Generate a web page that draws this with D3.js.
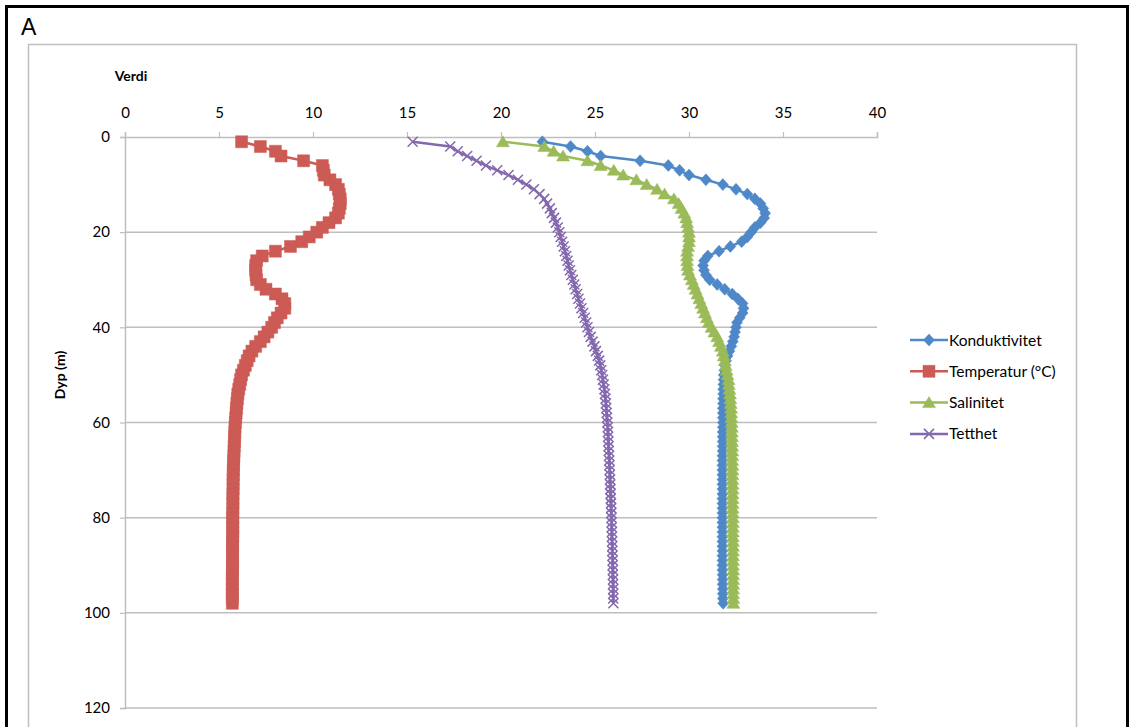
<!DOCTYPE html>
<html>
<head>
<meta charset="utf-8">
<script src="https://cdn.jsdelivr.net/npm/d3@7"></script>
<style>
  html, body { margin: 0; padding: 0; background: #fff; }
  svg { display: block; }
  text { font-family: Lato, "Open Sans", "Liberation Sans", sans-serif; fill: #000; }
</style>
</head>
<body>
<svg id="chart" width="1134" height="727"></svg>
<script>
// ---------- DATA ----------
const depths = [1,2,3,4,5,6,7,8,9,10,11,12,13,14,15,16,17,18,19,20,
  21,22,23,24,25,26,27,28,29,30,31,32,33,34,35,36,37,38,39,40,
  41,42,43,44,45,46,47,48,49,50,51,52,53,54,55,56,57,58,59,60,
  61,62,63,64,65,66,67,68,69,70,71,72,73,74,75,76,77,78,79,80,
  81,82,83,84,85,86,87,88,89,90,91,92,93,94,95,96,97,98];

const konduktivitet = [22.2,23.7,24.6,25.3,27.4,28.9,29.5,30.0,30.9,31.8,
  32.5,33.1,33.5,33.8,33.95,34.05,34.0,33.8,33.5,33.3,
  33.1,32.8,32.2,31.6,31.0,30.8,30.75,30.8,30.9,31.1,
  31.5,31.9,32.3,32.6,32.85,32.9,32.85,32.7,32.55,32.5,
  32.45,32.4,32.33,32.25,32.15,32.05,31.97,31.92,31.88,31.85,
  31.84,31.83,31.82,31.82,31.81,31.81,31.8,31.8,31.8,31.8,
  31.8,31.79,31.79,31.79,31.79,31.79,31.78,31.78,31.78,31.78,
  31.78,31.78,31.78,31.78,31.78,31.78,31.78,31.78,31.78,31.78,
  31.78,31.78,31.78,31.78,31.78,31.78,31.78,31.78,31.78,31.78,
  31.78,31.79,31.79,31.79,31.8,31.8,31.8,31.82];

const temperatur = [6.2,7.2,8.0,8.3,9.5,10.5,10.55,10.6,10.9,11.2,
  11.35,11.4,11.45,11.45,11.4,11.35,11.2,10.85,10.5,10.2,
  9.8,9.4,8.8,8.0,7.3,7.0,6.95,6.95,6.97,7.0,
  7.2,7.5,8.0,8.35,8.5,8.5,8.3,8.1,7.95,7.8,
  7.6,7.4,7.2,6.95,6.75,6.6,6.5,6.4,6.3,6.2,
  6.15,6.1,6.05,6.0,5.98,5.95,5.93,5.91,5.89,5.87,
  5.85,5.84,5.83,5.82,5.81,5.8,5.79,5.78,5.77,5.76,
  5.76,5.75,5.75,5.75,5.74,5.74,5.74,5.74,5.73,5.73,
  5.73,5.73,5.73,5.73,5.72,5.72,5.72,5.72,5.72,5.72,
  5.72,5.71,5.71,5.71,5.71,5.71,5.71,5.71];

const salinitet = [20.1,22.3,22.8,23.3,24.6,25.3,26.0,26.5,27.2,27.75,
  28.3,28.7,29.2,29.45,29.6,29.75,29.85,29.9,29.95,30.0,
  30.0,30.0,29.95,29.9,29.9,29.9,29.92,29.95,30.05,30.15,
  30.25,30.35,30.45,30.55,30.65,30.75,30.85,30.95,31.05,31.2,
  31.35,31.5,31.6,31.7,31.8,31.85,31.9,31.95,32.0,32.05,
  32.1,32.12,32.15,32.18,32.2,32.22,32.24,32.25,32.26,32.27,
  32.28,32.28,32.29,32.29,32.3,32.3,32.3,32.3,32.31,32.31,
  32.31,32.31,32.32,32.32,32.32,32.32,32.32,32.32,32.33,32.33,
  32.33,32.33,32.33,32.33,32.34,32.34,32.34,32.34,32.34,32.34,
  32.35,32.35,32.35,32.35,32.35,32.35,32.36,32.36];

const tetthet = [15.3,17.3,17.7,18.2,18.7,19.2,19.8,20.4,20.9,21.35,
  21.75,22.05,22.3,22.45,22.6,22.7,22.82,22.92,23.02,23.1,
  23.17,23.25,23.33,23.4,23.47,23.54,23.6,23.67,23.74,23.82,
  23.9,23.97,24.05,24.12,24.2,24.28,24.37,24.45,24.53,24.6,
  24.68,24.77,24.87,24.97,25.05,25.15,25.22,25.28,25.33,25.38,
  25.42,25.46,25.5,25.53,25.56,25.58,25.6,25.62,25.64,25.66,
  25.68,25.69,25.7,25.71,25.72,25.73,25.75,25.76,25.77,25.78,
  25.79,25.8,25.81,25.82,25.83,25.84,25.85,25.86,25.87,25.88,
  25.88,25.89,25.9,25.9,25.91,25.92,25.92,25.93,25.94,25.94,
  25.95,25.95,25.96,25.96,25.97,25.97,25.97,25.98];

const seriesNames = ["Konduktivitet", "Temperatur (°C)", "Salinitet", "Tetthet"];
const xTicks = [0,5,10,15,20,25,30,35,40];
const yTicks = [0,20,40,60,80,100,120];
const xTitle = "Verdi";
const yTitle = "Dyp (m)";
const panelLabel = "A";

// ---------- LAYOUT ----------
const svg = d3.select("#chart");
const colors = ["#4F88C8", "#CD5B55", "#9BBB59", "#8468AE"];
const shapes = ["diamond", "square", "triangle", "x"];
const seriesValues = [konduktivitet, temperatur, salinitet, tetthet];

const x = d3.scaleLinear().domain([0, 40]).range([125, 877]);
const y = d3.scaleLinear().domain([0, 120]).range([137, 708]);

// outer black frame
svg.append("rect").attr("x", 6.5).attr("y", 6.5).attr("width", 1121).attr("height", 740)
  .attr("fill", "none").attr("stroke", "#000").attr("stroke-width", 3);

svg.append("text").attr("x", 21).attr("y", 35).attr("font-size", 23)
  .style("font-family", "'Liberation Sans', Arial, sans-serif").text(panelLabel);

// chart area border
svg.append("rect").attr("x", 28.5).attr("y", 44.5).attr("width", 1048).attr("height", 700)
  .attr("fill", "#fff").attr("stroke", "#BFBFBF").attr("stroke-width", 1.5);

// gridlines
const grid = svg.append("g");
grid.selectAll("line").data(yTicks.filter(t => t > 0)).join("line")
  .attr("x1", x(0)).attr("x2", x(40))
  .attr("y1", d => y(d)).attr("y2", d => y(d))
  .attr("stroke", "#BEBEBE").attr("stroke-width", 1.5);

// top axis
const xAxis = d3.axisTop(x).tickValues(xTicks).tickSize(5).tickPadding(14).tickFormat(d3.format("d"));
const gx = svg.append("g").attr("transform", `translate(0,${y(0)})`).call(xAxis);
gx.select(".domain").attr("stroke", "#BEBEBE").attr("stroke-width", 1.5);
gx.selectAll(".tick line").attr("stroke", "#BEBEBE").attr("stroke-width", 1.2);
gx.selectAll(".tick text").attr("font-size", 15).attr("fill", "#111")
  .style("font-family", "Lato, 'Open Sans', sans-serif");

// left axis
const yAxis = d3.axisLeft(y).tickValues(yTicks).tickSize(5).tickPadding(10).tickFormat(d3.format("d"));
const gy = svg.append("g").attr("transform", `translate(${x(0)},0)`).call(yAxis);
gy.select(".domain").attr("stroke", "#BEBEBE").attr("stroke-width", 1.5);
gy.selectAll(".tick line").attr("stroke", "#BEBEBE").attr("stroke-width", 1.2);
gy.selectAll(".tick text").attr("font-size", 15).attr("fill", "#111")
  .style("font-family", "Lato, 'Open Sans', sans-serif");

// axis titles
svg.append("text").attr("x", 131).attr("y", 81).attr("text-anchor", "middle")
  .attr("font-size", 14).attr("font-weight", "bold").text(xTitle);
svg.append("text").attr("transform", "translate(65,375) rotate(-90)")
  .attr("text-anchor", "middle").attr("font-size", 14).attr("font-weight", "bold").text(yTitle);

// marker path generator
function markerPath(shape) {
  switch (shape) {
    case "diamond": return "M0,-6L5.5,0L0,6L-5.5,0Z";
    case "square": return "M-6,-6H6V6H-6Z";
    case "triangle": return "M0,-6L6.5,5L-6.5,5Z";
    case "x": return "M-5,-5L5,5M5,-5L-5,5";
  }
}

const line = d3.line().x(d => x(d.v)).y(d => y(d.d));

seriesValues.forEach((vals, i) => {
  const pts = vals.map((v, k) => ({ v: v, d: depths[k] }));
  const g = svg.append("g");
  g.append("path").datum(pts).attr("d", line)
    .attr("fill", "none").attr("stroke", colors[i]).attr("stroke-width", 2.5)
    .attr("stroke-linejoin", "round");
  g.selectAll("path.m").data(pts).join("path").attr("class", "m")
    .attr("transform", d => `translate(${x(d.v)},${y(d.d)})`)
    .attr("d", markerPath(shapes[i]))
    .attr("fill", shapes[i] === "x" ? "none" : colors[i])
    .attr("stroke", colors[i])
    .attr("stroke-width", shapes[i] === "x" ? 1.5 : 0.5);
});

// legend
const legend = svg.append("g");
seriesNames.forEach((name, i) => {
  const ly = 340 + i * 31.3;
  const lg = legend.append("g");
  lg.append("line").attr("x1", 910).attr("x2", 948).attr("y1", ly).attr("y2", ly)
    .attr("stroke", colors[i]).attr("stroke-width", 2.5);
  lg.append("path").attr("transform", `translate(929,${ly})`).attr("d", markerPath(shapes[i]))
    .attr("fill", shapes[i] === "x" ? "none" : colors[i]).attr("stroke", colors[i])
    .attr("stroke-width", shapes[i] === "x" ? 1.5 : 0.5);
  lg.append("text").attr("x", 949).attr("y", ly + 5.5).attr("font-size", 15.5).text(name);
});
</script>
</body>
</html>
